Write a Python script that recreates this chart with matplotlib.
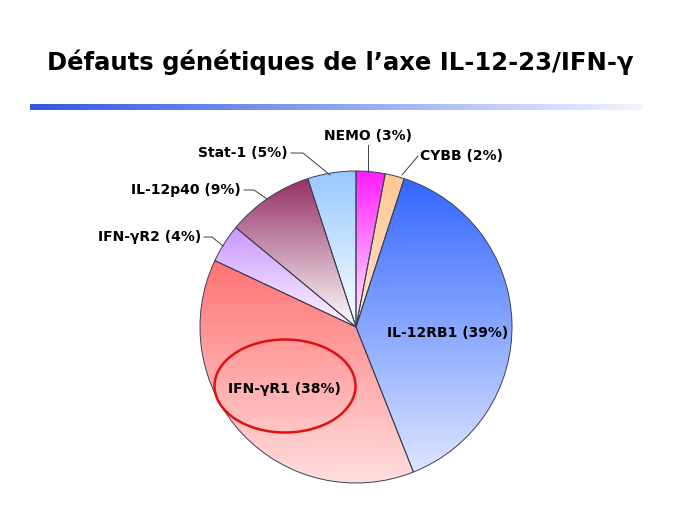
import numpy as np
import matplotlib.pyplot as plt
from matplotlib.colors import LinearSegmentedColormap
from matplotlib.patches import Ellipse

# donnees (sens horaire depuis midi)
categories = ['NEMO', 'CYBB', 'IL-12RB1', 'IFN-γR1', 'IFN-γR2', 'IL-12p40', 'Stat-1']
pourcentages = [3, 2, 39, 38, 4, 9, 5]
couleurs_haut = ['#FF1CFF', '#FFC894', '#3366FF', '#FF7272', '#C896FF', '#953063', '#96C8FF']
couleurs_bas = ['#FFF4FF', '#FFE2C8', '#DCE5FF', '#FFDEDE', '#FFF6FF', '#FFFFFF', '#FFFFFF']
titre = "Défauts génétiques de l’axe IL-12-23/IFN-γ"

W, H = 689, 517


def Y(y):
    # coordonnees pixel (y vers le bas) -> donnees (y vers le haut)
    return H - y


fig = plt.figure(figsize=(W / 100, H / 100), dpi=100)
ax = fig.add_axes([0, 0, 1, 1])

fig.text(340 / W, 1 - 62 / H, titre, ha='center', va='center',
         fontsize=17.5, fontweight='bold', color='black')

# barre degradee sous le titre
barre = np.linspace(0, 1, 256).reshape(1, -1)
cmap_barre = LinearSegmentedColormap.from_list('barre', ['#3058E0', '#8FA4F0', '#F2F4FF'])
ax.imshow(barre, cmap=cmap_barre, extent=[30, 643, Y(110), Y(104)], aspect='auto', zorder=1)

wedges, _ = ax.pie(pourcentages, center=(356, Y(327)), radius=156, startangle=90,
                   counterclock=False, frame=False,
                   wedgeprops=dict(facecolor='none', edgecolor='#3a3f55', linewidth=0.7))
ax.set_xlim(0, W)
ax.set_ylim(0, H)
ax.set_aspect('equal')
ax.axis('off')

grad = np.linspace(0, 1, 256).reshape(-1, 1)
for w, c1, c2 in zip(wedges, couleurs_haut, couleurs_bas):
    bb = w.get_path().get_extents()
    cm = LinearSegmentedColormap.from_list('g', [c1, c2])
    im = ax.imshow(grad, cmap=cm, extent=[bb.x0, bb.x1, bb.y0, bb.y1],
                   origin='upper', aspect='auto', zorder=1)
    im.set_clip_path(w)
    w.set_zorder(2)

fs = 10
# etiquettes exterieures avec traits de rappel
ext = [
    ('NEMO (3%)', (368, 136), 'center', [(368, 145), (368, 172)]),
    ('CYBB (2%)', (420, 156), 'left', [(418, 156), (402, 175)]),
    ('Stat-1 (5%)', (288, 153), 'right', [(291, 153), (303, 153), (330, 175)]),
    ('IL-12p40 (9%)', (241, 190), 'right', [(244, 190), (254, 190), (267, 199)]),
    ('IFN-γR2 (4%)', (201, 237), 'right', [(204, 237), (212, 237), (223, 246)]),
]
for lab, (x, y), ha, pts in ext:
    ax.text(x, Y(y), lab, ha=ha, va='center', fontsize=fs, fontweight='bold', zorder=4)
    xs = [p[0] for p in pts]
    ys = [Y(p[1]) for p in pts]
    ax.plot(xs, ys, color='#404040', linewidth=0.7, zorder=3)

ax.text(448, Y(333), 'IL-12RB1 (39%)', ha='center', va='center',
        fontsize=fs, fontweight='bold', zorder=4)
ax.text(284, Y(389), 'IFN-γR1 (38%)', ha='center', va='center',
        fontsize=fs, fontweight='bold', zorder=4)
ax.add_patch(Ellipse((285, Y(386)), 141, 93, facecolor='none',
                     edgecolor='#E01010', linewidth=1.8, zorder=4))

fig.savefig('out.png', dpi=100)
